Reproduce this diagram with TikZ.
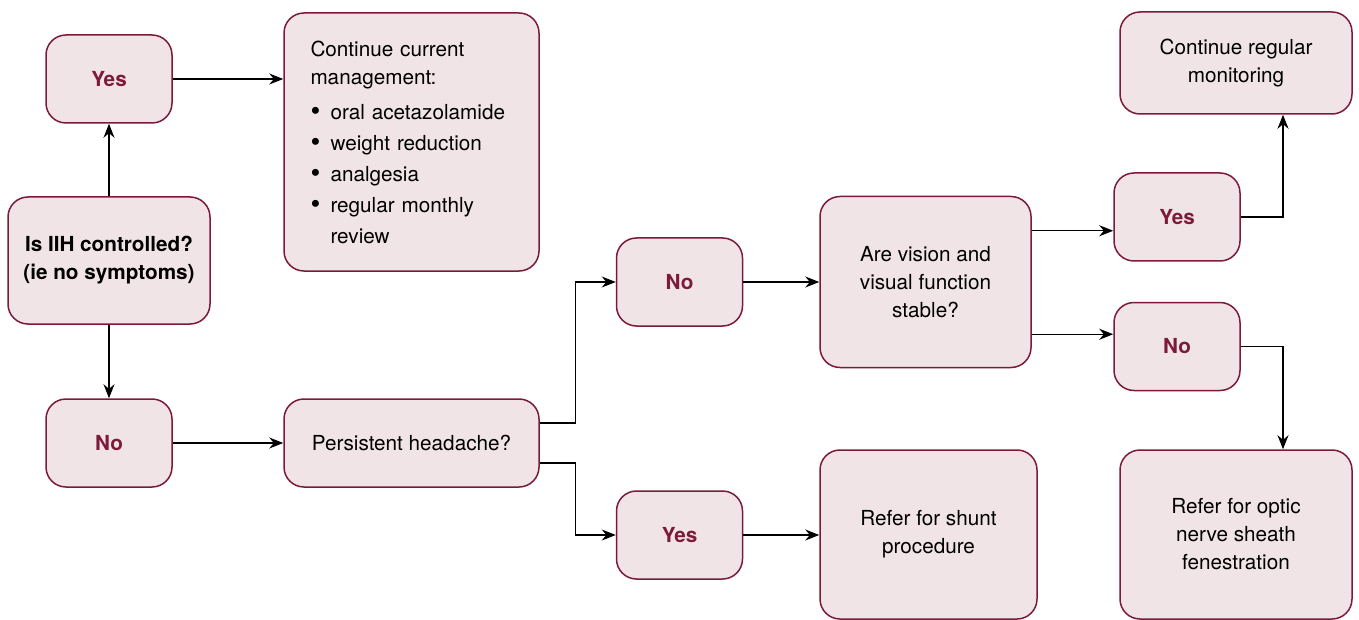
\documentclass[tikz,border=0pt]{standalone}
\usepackage{fontspec}
\setmainfont{TeX Gyre Heros}
\usetikzlibrary{arrows.meta}
\definecolor{boxfill}{RGB}{240,228,230}
\definecolor{boxline}{RGB}{124,26,60}
\newcommand{\listdot}{\makebox[20pt][l]{\raisebox{-1.5pt}{\fontsize{28}{28}\selectfont\textbullet}}}
\tikzset{
	flowbox/.style={draw=boxline, fill=boxfill, line width=1.5pt, rounded corners=20pt, inner sep=0pt, align=center, font=\fontsize{20.7}{28}\selectfont},
	answer/.style={flowbox, minimum width=126pt, minimum height=88pt, text=boxline, font=\fontsize{20.7}{28}\selectfont\bfseries},
	link/.style={-{Stealth[length=14pt,width=11pt]}, line width=1.1pt},
}
\begin{document}
\begin{tikzpicture}[x=1pt,y=-1pt]
				\useasboundingbox (0,0) rectangle (1359,620);
				\node[answer](yesA) at (109,79){Yes};
				\node[flowbox, minimum width=202pt, minimum height=127pt, font=\fontsize{20.7}{28}\selectfont\bfseries](ctrl) at (109,260.5){Is IIH controlled?\\(ie no symptoms)};
				\node[answer](noA) at (109,443){No};
				\node[flowbox, minimum width=255pt, minimum height=258pt, text width=202pt, align=left](cont) at (411.5,142){Continue current\\management:\\[7pt]
					\listdot oral acetazolamide\\[3pt]
					\listdot weight reduction\\[3pt]
					\listdot analgesia\\[3pt]
					\listdot regular monthly\\[3pt]
					\hspace*{20pt}review};
				\node[flowbox, minimum width=255pt, minimum height=88pt](head) at (411.5,443){Persistent headache?};
				\node[answer](noB) at (679.5,282){No};
				\node[answer](yesB) at (679.5,535){Yes};
				\node[flowbox, minimum width=211pt, minimum height=171pt](vision) at (925.5,282){Are vision and\\visual function\\stable?};
				\node[flowbox, minimum width=217pt, minimum height=169pt](shunt) at (928.5,534.5){Refer for shunt\\procedure};
				\node[answer](yesC) at (1177,217){Yes};
				\node[answer](noC) at (1177,346.5){No};
				\node[flowbox, minimum width=232pt, minimum height=102pt](monitor) at (1236,63){Continue regular\\monitoring};
				\node[flowbox, minimum width=232pt, minimum height=169pt](optic) at (1236,534.5){Refer for optic\\nerve sheath\\fenestration};
				\coordinate(visA) at ([yshift=-35pt]vision.north east);
				\coordinate(visB) at ([yshift=34pt]vision.south east);
				\draw[link](yesA.east) to (yesA.east -| cont.west);
				\draw[link](ctrl.north) to (yesA.south);
				\draw[link](ctrl.south) to (noA.north);
				\draw[link](noA.east) to (head.west);
				\draw[link]([yshift=20pt]head.east) to ++(36,0) |- (noB.west);
				\draw[link]([yshift=-20pt]head.east) to ++(36,0) |- (yesB.west);
				\draw[link](noB.east) to (vision.west);
				\draw[link](yesB.east) to (yesB.east -| shunt.west);
				\draw[link](visA) to (visA -| yesC.west);
				\draw[link](visB) to (visB -| noC.west);
				\draw[link](yesC.east) -| ([xshift=47pt]monitor.south);
				\draw[link](noC.east) -| ([xshift=47pt]optic.north);
			\end{tikzpicture}
\end{document}
